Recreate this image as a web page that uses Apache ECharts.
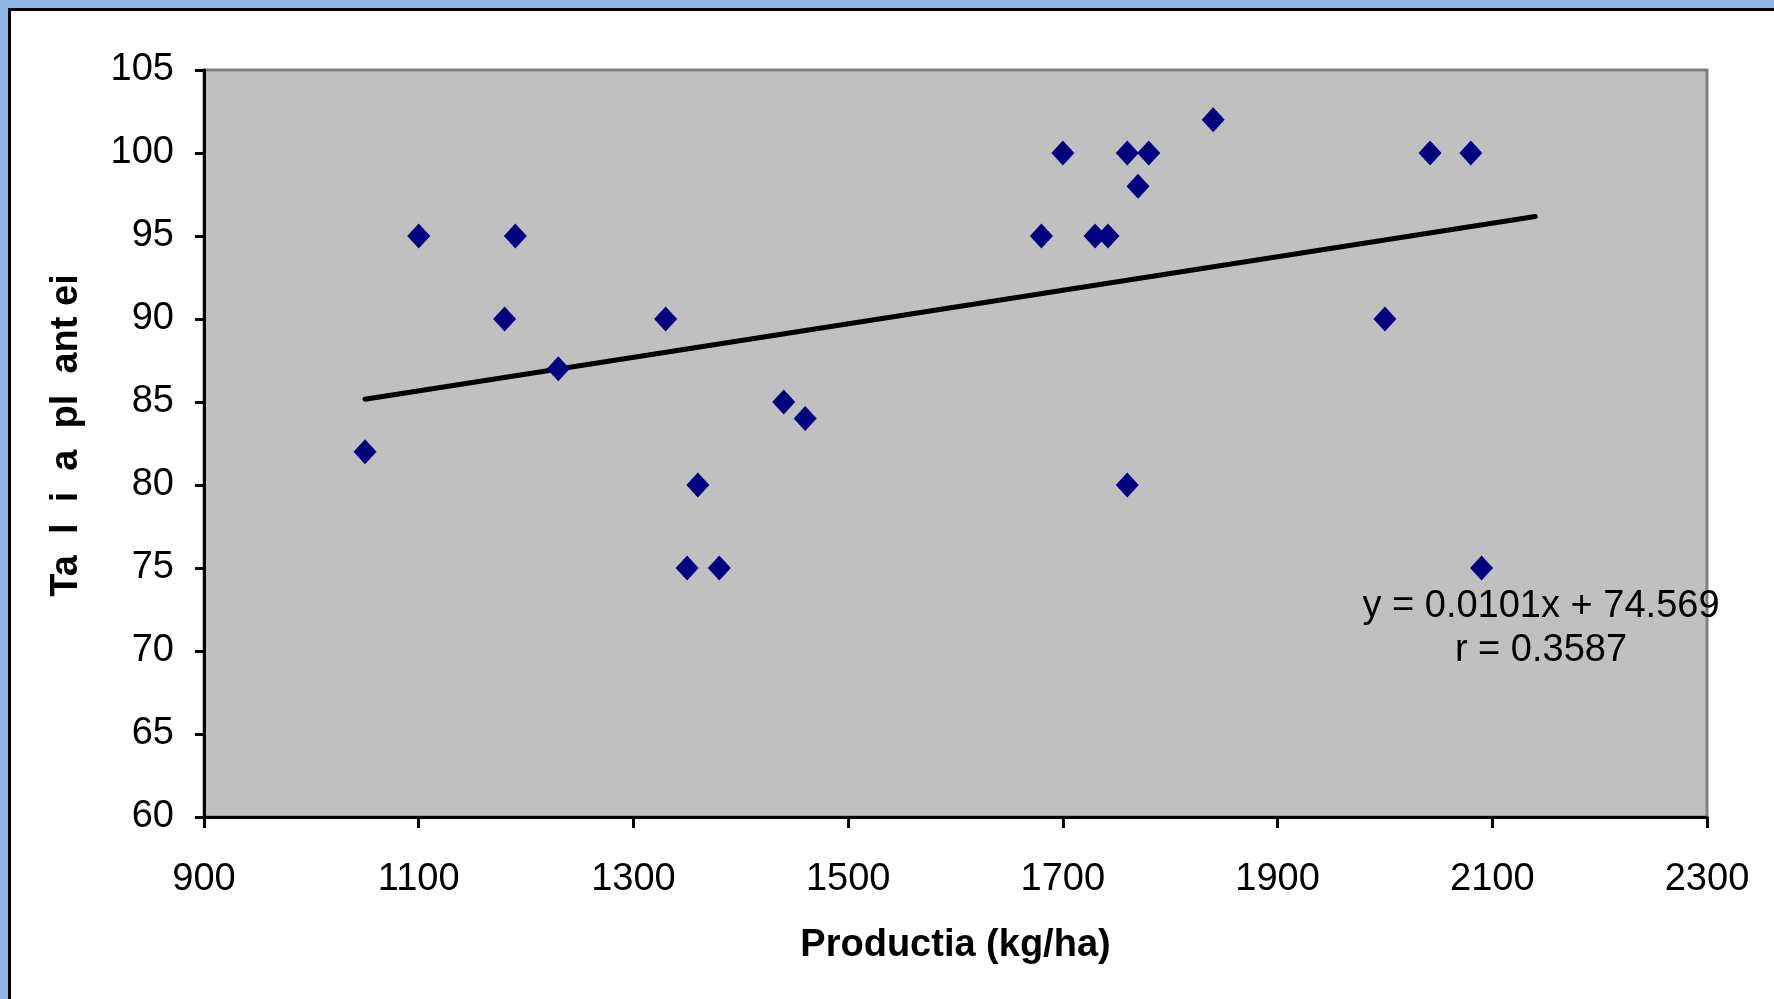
<!DOCTYPE html>
<html>
<head>
<meta charset="utf-8">
<script src="https://cdn.jsdelivr.net/npm/echarts@6/dist/echarts.min.js"></script>
<style>
  html, body { margin: 0; padding: 0; background: #8EB4E3; }
  #chart { width: 1774px; height: 999px; }
</style>
</head>
<body>
<div id="chart"></div>
<script>
// Data
const productia = [1050, 1100, 1180, 1190, 1230, 1330, 1350, 1360, 1380, 1440, 1460,
                   1680, 1700, 1730, 1742, 1760, 1770, 1780, 1760, 1840, 2000, 2042, 2080, 2090];
const talia     = [82, 95, 90, 95, 87, 90, 75, 80, 75, 85, 84,
                   95, 100, 95, 95, 100, 98, 100, 80, 102, 90, 100, 100, 75];
const trendX = [1050, 2140];
const trendY = [85.17, 96.18];
const xTicks = { min: 900, max: 2300, interval: 200 };
const yTicks = { min: 60, max: 105, interval: 5 };
const equationText = 'y = 0.0101x + 74.569';
const rText = 'r = 0.3587';
const xTitle = 'Productia (kg/ha)';
const yTitle = 'Ta  l  i  a  pl  ant ei';

const scatterData = productia.map((x, i) => [x, talia[i]]);
const trendData = trendX.map((x, i) => [x, trendY[i]]);

const font = 'Liberation Sans, Arial, sans-serif';
const chart = echarts.init(document.getElementById('chart'));
chart.setOption({
  backgroundColor: '#8EB4E3',
  animation: false,
  graphic: [
    {
      type: 'rect', z: -10, silent: true,
      shape: { x: 9.5, y: 9.5, width: 1900, height: 1100 },
      style: { fill: '#ffffff', stroke: '#000000', lineWidth: 3 }
    },
    {
      type: 'text', z: 100,
      style: { text: equationText, font: '38px ' + font, fill: '#000', align: 'center', verticalAlign: 'middle' },
      position: [1541, 607]
    },
    {
      type: 'text', z: 100,
      style: { text: rText, font: '38px ' + font, fill: '#000', align: 'center', verticalAlign: 'middle' },
      position: [1541, 651]
    }
  ],
  grid: {
    left: 204, top: 70, right: 67, bottom: 182,
    show: true, backgroundColor: '#C0C0C0', borderColor: '#808080', borderWidth: 3
  },
  xAxis: {
    type: 'value', min: xTicks.min, max: xTicks.max, interval: xTicks.interval,
    name: xTitle, nameLocation: 'middle', nameGap: 110,
    nameTextStyle: { fontFamily: font, fontSize: 38, fontWeight: 'bold', color: '#000' },
    axisLine: { onZero: false, lineStyle: { color: '#000', width: 3 } },
    axisTick: { show: true, length: 11, lineStyle: { color: '#000', width: 3 } },
    axisLabel: { margin: 44, fontFamily: font, fontSize: 38, color: '#000', formatter: v => String(v) },
    splitLine: { show: false }
  },
  yAxis: {
    type: 'value', min: yTicks.min, max: yTicks.max, interval: yTicks.interval,
    name: yTitle, nameLocation: 'middle', nameGap: 118, nameRotate: 90,
    nameTextStyle: { fontFamily: font, fontSize: 38, fontWeight: 'bold', color: '#000', padding: [0, 0, 0, 16] },
    axisLine: { onZero: false, lineStyle: { color: '#000', width: 3 } },
    axisTick: { show: true, length: 9, lineStyle: { color: '#000', width: 3 } },
    axisLabel: { margin: 30, fontFamily: font, fontSize: 38, color: '#000', formatter: v => String(v) },
    splitLine: { show: false }
  },
  series: [
    {
      type: 'line', data: trendData, symbol: 'none', z: 3,
      lineStyle: { color: '#000', width: 5, cap: 'round' }
    },
    {
      type: 'scatter', data: scatterData, symbol: 'diamond', symbolSize: [23, 25], z: 4,
      itemStyle: { color: '#000080', opacity: 1 }
    }
  ]
});
</script>
</body>
</html>
